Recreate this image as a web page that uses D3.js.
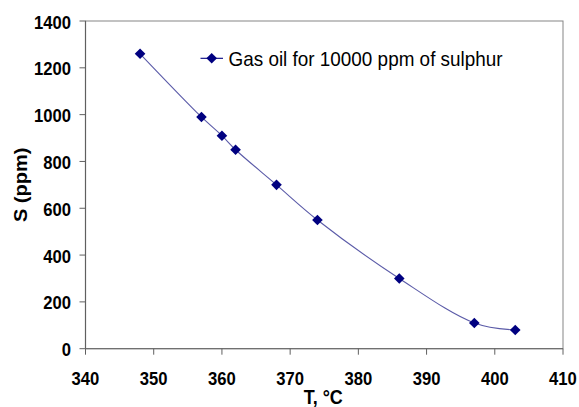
<!DOCTYPE html>
<html>
<head>
<meta charset="utf-8">
<script src="https://cdn.jsdelivr.net/npm/d3@7/dist/d3.min.js"></script>
<style>
  html, body { margin: 0; padding: 0; background: #fff; }
  svg { display: block; }
  text { font-family: "Liberation Sans", Arial, sans-serif; fill: #000; }
</style>
</head>
<body>
<svg id="chart" width="579" height="407"></svg>
<script>
// ---- data ----
const temperatures = [348, 357, 360, 362, 368, 374, 386, 397, 403];
const sulphurPpm   = [1260, 990, 910, 850, 700, 550, 300, 110, 80];
const xTickValues  = [340, 350, 360, 370, 380, 390, 400, 410];
const yTickValues  = [0, 200, 400, 600, 800, 1000, 1200, 1400];
const seriesName   = "Gas oil for 10000 ppm of sulphur";
const xTitle = "T, °C";
const yTitle = "S (ppm)";

const svg = d3.select("#chart");
const SX = 0.9; // horizontal text compression seen in reference

const x = d3.scaleLinear().domain([340, 410]).range([85.5, 563]);
const y = d3.scaleLinear().domain([0, 1400]).range([348.7, 21]);

// plot frame (top/right)
svg.append("rect")
  .attr("x", x(340)).attr("y", y(1400))
  .attr("width", x(410) - x(340)).attr("height", y(0) - y(1400))
  .attr("fill", "none").attr("stroke", "#858585").attr("stroke-width", 1);

// axes lines
svg.append("line").attr("x1", x(340)).attr("x2", x(340)).attr("y1", y(1400)).attr("y2", y(0))
  .attr("stroke", "#606060").attr("stroke-width", 1.2);
svg.append("line").attr("x1", x(340)).attr("x2", x(410)).attr("y1", y(0)).attr("y2", y(0))
  .attr("stroke", "#707070").attr("stroke-width", 1.2);

// y ticks
svg.selectAll(".ytick").data(yTickValues).enter().append("line")
  .attr("x1", x(340) - 6).attr("x2", x(340))
  .attr("y1", d => y(d)).attr("y2", d => y(d))
  .attr("stroke", "#606060").attr("stroke-width", 1);
svg.selectAll(".ylab").data(yTickValues).enter().append("text")
  .attr("transform", d => `translate(71,${y(d) + 7.5}) scale(${SX},1)`)
  .attr("text-anchor", "end")
  .attr("font-size", 18.5).attr("font-weight", "bold")
  .text(d => d);

// x ticks
svg.selectAll(".xtick").data(xTickValues).enter().append("line")
  .attr("x1", d => x(d)).attr("x2", d => x(d))
  .attr("y1", y(0)).attr("y2", y(0) + 6)
  .attr("stroke", "#606060").attr("stroke-width", 1);
svg.selectAll(".xlab").data(xTickValues).enter().append("text")
  .attr("transform", d => `translate(${x(d)},385) scale(${SX},1)`)
  .attr("text-anchor", "middle")
  .attr("font-size", 18.5).attr("font-weight", "bold")
  .text(d => d);

// axis titles
svg.append("text")
  .attr("transform", `translate(${(x(340) + x(410)) / 2 - 1},404) scale(${SX},1)`)
  .attr("text-anchor", "middle")
  .attr("font-size", 20).attr("font-weight", "bold")
  .text(xTitle);
svg.append("text")
  .attr("transform", `translate(27,${(y(0) + y(1400)) / 2}) scale(${SX},1) rotate(-90)`)
  .attr("text-anchor", "middle")
  .attr("font-size", 20).attr("font-weight", "bold")
  .text(yTitle);

// series
const pts = temperatures.map((t, i) => [t, sulphurPpm[i]]);
const line = d3.line().x(d => x(d[0])).y(d => y(d[1])).curve(d3.curveCatmullRom.alpha(0.5));
svg.append("path").attr("d", line(pts))
  .attr("fill", "none").attr("stroke", "#5b5ba8").attr("stroke-width", 1.1);

const diamond = d3.symbol().type(d3.symbolDiamond2 || d3.symbolDiamond).size(60);
function drawDiamond(cx, cy) {
  const r = 5.3;
  svg.append("path")
    .attr("d", `M${cx},${cy - r}L${cx + r},${cy}L${cx},${cy + r}L${cx - r},${cy}Z`)
    .attr("fill", "#000080");
}
pts.forEach(d => drawDiamond(x(d[0]), y(d[1])));

// legend
svg.append("line").attr("x1", 200.5).attr("x2", 223).attr("y1", 58.3).attr("y2", 58.3)
  .attr("stroke", "#000080").attr("stroke-width", 1.1);
drawDiamond(211.7, 58.3);
svg.append("text")
  .attr("transform", `translate(228.5,65.5) scale(${SX},1)`)
  .attr("font-size", 21)
  .text(seriesName);
</script>
</body>
</html>
